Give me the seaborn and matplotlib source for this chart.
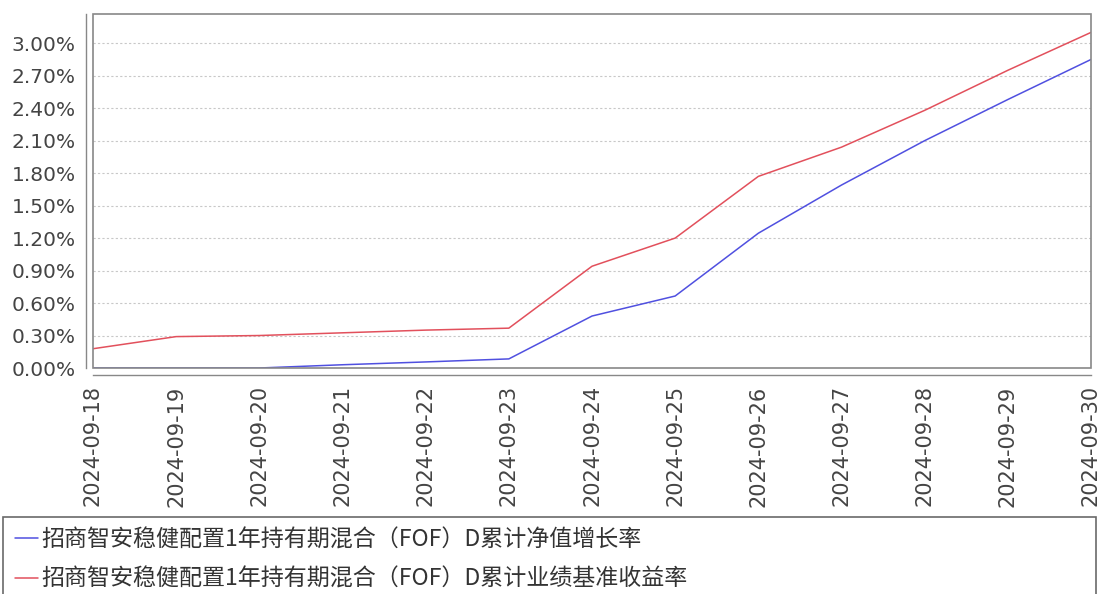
import pandas as pd
import numpy as np
import matplotlib
matplotlib.use('Agg')
import matplotlib.pyplot as plt
from matplotlib.patches import Rectangle
import seaborn as sns

# data (percent)
dates = ['2024-09-18', '2024-09-19', '2024-09-20', '2024-09-21', '2024-09-22',
         '2024-09-23', '2024-09-24', '2024-09-25', '2024-09-26', '2024-09-27',
         '2024-09-28', '2024-09-29', '2024-09-30']
nav_growth = [0.00, 0.00, 0.00, 0.03, 0.056, 0.084, 0.48, 0.665, 1.245, 1.69, 2.10, 2.48, 2.85]
benchmark = [0.178, 0.29, 0.30, 0.325, 0.35, 0.368, 0.94, 1.20, 1.77, 2.04, 2.38, 2.75, 3.10]
name_nav = '招商智安稳健配置1年持有期混合（FOF）D累计净值增长率'
name_bench = '招商智安稳健配置1年持有期混合（FOF）D累计业绩基准收益率'
yticks = [0.0, 0.3, 0.6, 0.9, 1.2, 1.5, 1.8, 2.1, 2.4, 2.7, 3.0]

df = pd.DataFrame({'date': pd.to_datetime(dates * 2),
                   'value': nav_growth + benchmark,
                   'series': [name_nav] * len(dates) + [name_bench] * len(dates)})

sns.set_style('white')
plt.rcParams['font.family'] = ['Noto Sans CJK SC', 'DejaVu Sans']

fig = plt.figure(figsize=(10.99, 5.94), dpi=100)
ax = fig.add_axes([93 / 1099, 1 - 368 / 594, 998 / 1099, 354 / 594])

sns.lineplot(data=df, x='date', y='value', hue='series',
             palette={name_nav: '#5050e0', name_bench: '#e2505c'},
             linewidth=1.1, ax=ax, legend=False)

ax.set_xlim(df['date'].min(), df['date'].max())
ax.set_ylim(0, 3.27)
ax.set_yticks(yticks, labels=['%.2f%%' % v for v in yticks])
ax.set_xticks(pd.to_datetime(dates), labels=dates)
ax.set_xlabel('')
ax.set_ylabel('')
ax.yaxis.grid(True, color='#c8c8c8', linestyle=(0, (2, 2)), linewidth=0.8)
ax.xaxis.grid(False)
ax.tick_params(axis='both', colors='#888888', labelcolor='#444444', length=4, width=0.8,
               direction='out', labelfontfamily='DejaVu Sans')
ax.tick_params(axis='y', labelsize=14.5)
ax.tick_params(axis='x', labelsize=15, labelrotation=90)

for side in ['top', 'right']:
    ax.spines[side].set_visible(False)
for side in ['left', 'bottom']:
    ax.spines[side].set_position(('outward', 5))
    ax.spines[side].set_color('#888888')
    ax.spines[side].set_linewidth(1.0)
ax.add_patch(Rectangle((0, 0), 1, 1, transform=ax.transAxes, fill=False,
                       edgecolor='#888888', linewidth=1.2, clip_on=False, zorder=5))

handles = [plt.Line2D([], [], color='#5050e0', linewidth=1.1),
           plt.Line2D([], [], color='#e2505c', linewidth=1.1)]
leg = fig.legend(handles, [name_nav, name_bench], loc='upper left',
                 bbox_to_anchor=(3 / 1099, 0, 1093 / 1099, 1 - 517 / 594), mode='expand',
                 frameon=True, fancybox=False, fontsize=16.6, handlelength=1.0,
                 handletextpad=0.15, borderpad=0.5, labelspacing=0.7, borderaxespad=0)
leg.get_frame().set_edgecolor('#444444')
leg.get_frame().set_linewidth(1.2)
for t in leg.get_texts():
    t.set_color('#333333')

fig.savefig('out.png', dpi=100)
